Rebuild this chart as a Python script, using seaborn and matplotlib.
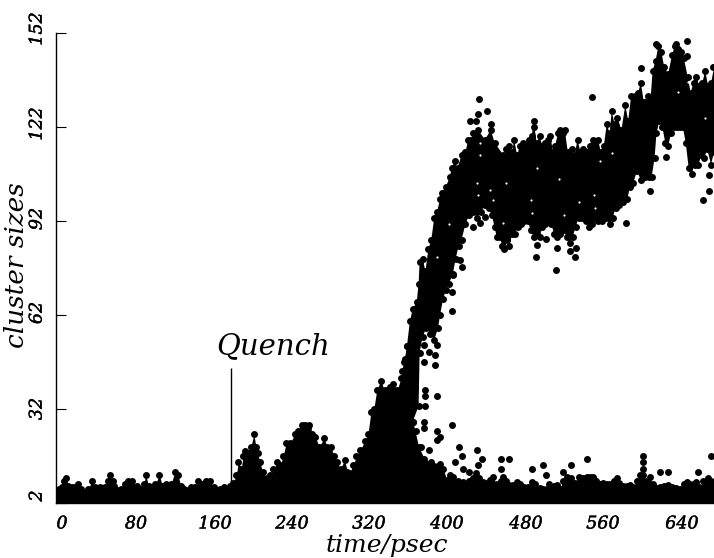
import matplotlib
matplotlib.use("Agg")
import matplotlib.pyplot as plt
import matplotlib.patheffects as pe
from matplotlib.transforms import ScaledTranslation
import pandas as pd
import seaborn as sns

# (time, size) read along the top of the small-cluster band
low_band = [(0,5.5),(3,6.5),(6,7),(8,9),(10,10),(12,7.5),(16,7),(20,7),(23,8),(26,6.5),(30,5.5),(33,6.5),(37,9),(40,7),
    (45,7),(50,7),(53,9),(55,10.8),(58,9),(60,7.5),(63,6),(67,6.5),(71,8),(74,8.9),(78,8.9),(83,7.4),(87,6.5),(90,8),
    (92,11),(95,7.5),(98,7),(102,8),(106,11),(109,7.5),(113,8),(118,8),(122,12),(125,11),(128,7.5),(131,6.4),(135,6),
    (139,7),(143,7),(146,9),(150,8),(154,9),(158,9),(162,7),(165,5.8),(168,6.5),(172,7),(178,7.5),(182,8.5),(185,11),
    (187,15),(190,13),(192,17),(194,18.6),(197,18),(200,20),(203,24),(205,20),(207,18),(209,15),(212,12),(216,10),
    (220,11),(223,12.7),(227,15),(230,14),(233,17),(236,21),(240,21),(245,24),(248,25),(252,27),(255,27),(258,26),
    (260,27),(263,24),(266,23),(270,20),(275,22.7),(278,20),(282,20),(285,17),(288,15),(292,13),(296,15.7),(299,12),
    (301,11.7),(305,14),(308,17),(312,19),(317,21.7),(320,24),(323,31),(326,32),(329,38),(333,41),(337,38),(340,38),
    (343,39),(346,40),(350,38),(354,42),(357,47),(360,52),(366,28),(372,20),(378,16),(385,15),(394,14.6),(397,13),
    (401,9.3),(404,11),(407,10.4),(412,9),(418,8.8),(424,9),(428,10),(431,11.5),(434,10),(438,8.8),(442,8.5),(445,9.5),
    (448,10.4),(452,8),(456,9),(459,10.4),(462,9),(465,7.7),(469,7.7),(473,8.8),(476,8),(480,7.2),(484,7),(488,8.8),
    (491,8),(496,6.7),(500,6.5),(504,6.5),(507,7),(511,7.5),(514,7.7),(517,6.5),(520,9),(524,10.4),(528,10),(532,8.5),
    (537,10.4),(541,10),(545,10.4),(548,10.4),(551,10.4),(554,9),(558,8),(561,8.5),(565,8),(568,8),(572,9),(575,9.9),
    (578,8.5),(582,7.5),(586,7.5),(589,7.7),(592,7),(596,9),(599,11),(602,11),(605,9),(609,10.4),(612,8),(616,6.7),
    (620,7),(624,7.5),(628,7.7),(632,7),(636,6.7),(640,6.5),(644,8),(647,8.8),(650,8),(654,8),(657,8.8),(660,7),(664,9),
    (669,9.9),(672,9),(675,8.3)]

# (time, size) read along the upper edge of the largest-cluster band
big_upper = [(355,44),(358,48),(360,52),(363,60),(366,64),(370,66),(372,72),(373,79),(376,80),(379,76),(382,83),(385,86),
    (388,93),(391,95),(394,99),(396,101),(400,103),(404,106),(406,109),(409,111),(412,109),(416,113),(420,114),(423,118),
    (426,118),(428,120),(433,121),(440,118),(446,121),(450,117),(459,113),(462,115),(465,116),(468,114),(470,118),
    (473,113),(476,116),(479,117),(482,116),(485,118),(488,119),(490,124),(493,117),(496,119),(499,116),(502,117),
    (505,118),(507,119),(510,114),(512,116),(515,120),(517,121),(520,120),(522,121),(525,114),(529,115),(532,113),
    (535,118),(538,114),(541,115),(545,114),(548,116),(551,118),(556,118),(559,114),(562,116),(565,123),(568,120),
    (570,127),(573,123),(576,125),(580,121),(584,129),(587,124),(590,132),(594,132),(597,133),(600,136),(603,130),
    (607,132),(610,131),(612,140),(615,143),(618,148),(621,146),(624,141),(628,139),(632,145),(635,148),(638,147),
    (641,146),(644,144),(648,138),(651,133),(654,136),(657,138),(660,135),(663,136),(666,140),(669,135),(672,136),(675,141)]

# (time, size) read along the lower edge of the largest-cluster band
big_lower = [(355,20),(360,20),(366,28),(372,33),(373,50),(376,55),(380,58),(384,56),(388,54),(392,58),(394,62),(397,67),
    (400,70),(403,72),(407,75),(410,80),(413,84),(416,86),(420,91),(424,94),(428,95),(432,93),(436,95),(440,97),(444,96),
    (447,94),(450,90),(452,87),(455,87),(458,84),(460,83),(463,86),(465,84),(468,88),(471,88),(474,90),(477,91),(480,92),
    (484,92),(487,89),(490,87),(493,88),(496,87),(499,90),(502,91),(505,92),(508,91),(511,88),(514,87),(517,88),(520,89),
    (524,87),(527,85),(530,87),(533,90),(536,93),(540,93),(544,92),(547,90),(550,91),(553,93),(556,92),(560,92),(564,93),
    (568,91),(571,93),(574,96),(578,97),(582,98),(586,99),(589,103),(592,104),(596,108),(600,105),(604,106),(608,106),
    (611,106),(614,112),(616,120),(619,124),(622,122),(625,117),(628,116),(631,120),(634,122),(637,122),(640,122),
    (643,122),(646,117),(649,109),(652,107),(655,110),(659,110),(662,113),(665,112),(668,115),(672,110),(675,114)]

# (time, size) of dots standing apart from the bands
stray = [(433.6,131),(442,127),(432.6,126),(425,124),(431,124),(446,123),(490,122),(550,131.5),(600,140.7),(647,149.4),
    (647.6,144.7),(616,148.5),(635.7,148.5),(674,141),(609,101.6),(626,112.5),(664,98.6),(670,101.7),(670,106.7),(585,91.5),
    (513,76.5),(532,80.4),(533,83.4),(527,82.4),(514,83.4),(492,80.4),(493,84.3),(503,86.4),(428,90),(435,91.3),(440,93.4),
    (406,69.4),(406,63.3),(414,79.6),(416,77.4),(407,74.8),(378,52.4),(391,52.4),(383,50.3),(389,49.2),(378,47),(389,46),
    (379,38),(379,36),(379,33),(391,36),(377,28),(377,26),(406,27),(391,25),(369,25),(394,23),(391,22),(374,20),(383,19),
    (413,20),(432,19),(416,17),(409,15),(437,16),(418,13),(424,12),(433,14),(456,16),(465,16),(457,13),(488,13),(500,14),
    (503,11),(528,14),(545,16),(602,17),(602,15),(602,13),(620,12),(628,12),(659,12),(672,17),(520,12),(506,8)]

# (time, size) of the small gaps left inside the black band
gaps = [(435,116.8),(435,113),(431.5,104),(433,100.3),(445,101.9),(448.5,98.7),(462,104),(487,98.7),(493,108.8),(515.5,105.3),
    (537,98.2),(551.5,100.3),(553,96),(558,111),(570,113.6),(628,141.8),(638,133.3),(665.6,124.8),(391,80.4),(403,91),
    (459,91.3),(521,94),(648.5,136.5),(488,94.4)]

x_ticks = [0,80,160,240,320,400,480,560,640]
x_shift = [6,2,3,2,1,1,2,1,2]
y_ticks = [2,32,62,92,122,152]
y_shift = [7,0,2,2,3,4]

sns.set_theme(style="ticks")
plt.rcParams["font.family"] = ["DejaVu Serif"]
plt.rcParams["font.style"] = "italic"

fig = plt.figure(figsize=(7.14, 5.58), dpi=100)
ax = fig.add_axes([56/714, 55/558, 658/714, 470/558])

cols = ["t", "size"]
low_df = pd.DataFrame(low_band, columns=cols)
up_df = pd.DataFrame(big_upper, columns=cols)
lo_df = pd.DataFrame(big_lower, columns=cols)
stray_df = pd.DataFrame(stray, columns=cols)
gap_df = pd.DataFrame(gaps, columns=cols)

ax.fill_between(low_df["t"], 2, low_df["size"], color="black", lw=0)
ax.fill(list(up_df["t"]) + list(lo_df["t"])[::-1], list(up_df["size"]) + list(lo_df["size"])[::-1], color="black", lw=0)

dots = pd.concat([low_df, up_df, lo_df, stray_df])
sns.scatterplot(data=dots, x="t", y="size", color="black", s=25, linewidth=0, ax=ax)
sns.scatterplot(data=gap_df, x="t", y="size", color="white", s=2.5, linewidth=0, ax=ax)

ax.vlines(180, 2, 45, color="black", lw=1.0)
ax.text(216/714, (558-354)/558, "Quench", transform=fig.transFigure, fontsize=21, color="black")

ax.set_xlim(0, 675)
ax.set_ylim(2, 152)
ax.set_xlabel("")
ax.set_ylabel("")
sns.despine(ax=ax)
for s in ("left", "bottom"):
    ax.spines[s].set_linewidth(1.0)
    ax.spines[s].set_color("black")

stroke = [pe.withStroke(linewidth=0.3, foreground="black")]
ax.set_xticks(x_ticks)
ax.set_xticklabels([str(v) for v in x_ticks], fontsize=12.6, color="black", fontstyle="italic", path_effects=stroke)
ax.set_yticks(y_ticks)
ax.set_yticklabels([str(v) for v in y_ticks], fontsize=12.6, rotation=90, va="center", color="black",
                   fontstyle="italic", path_effects=stroke)
ax.tick_params(axis="x", length=0, pad=9)
ax.tick_params(axis="y", direction="in", length=7, width=0.8, color="black", pad=7.5)
for lab, d in zip(ax.get_xticklabels(), x_shift):
    lab.set_transform(lab.get_transform() + ScaledTranslation(d/100, 0, fig.dpi_scale_trans))
for lab, d in zip(ax.get_yticklabels(), y_shift):
    lab.set_transform(lab.get_transform() + ScaledTranslation(0, d/100, fig.dpi_scale_trans))

fig.text(387/714, (558-552)/558, "time/psec", ha="center", va="baseline", fontsize=18, color="black")
fig.text(17/714, (558-265)/558, "cluster sizes", ha="center", va="center", rotation=90, fontsize=19, color="black")

fig.savefig("out.png", dpi=100, facecolor="white")
